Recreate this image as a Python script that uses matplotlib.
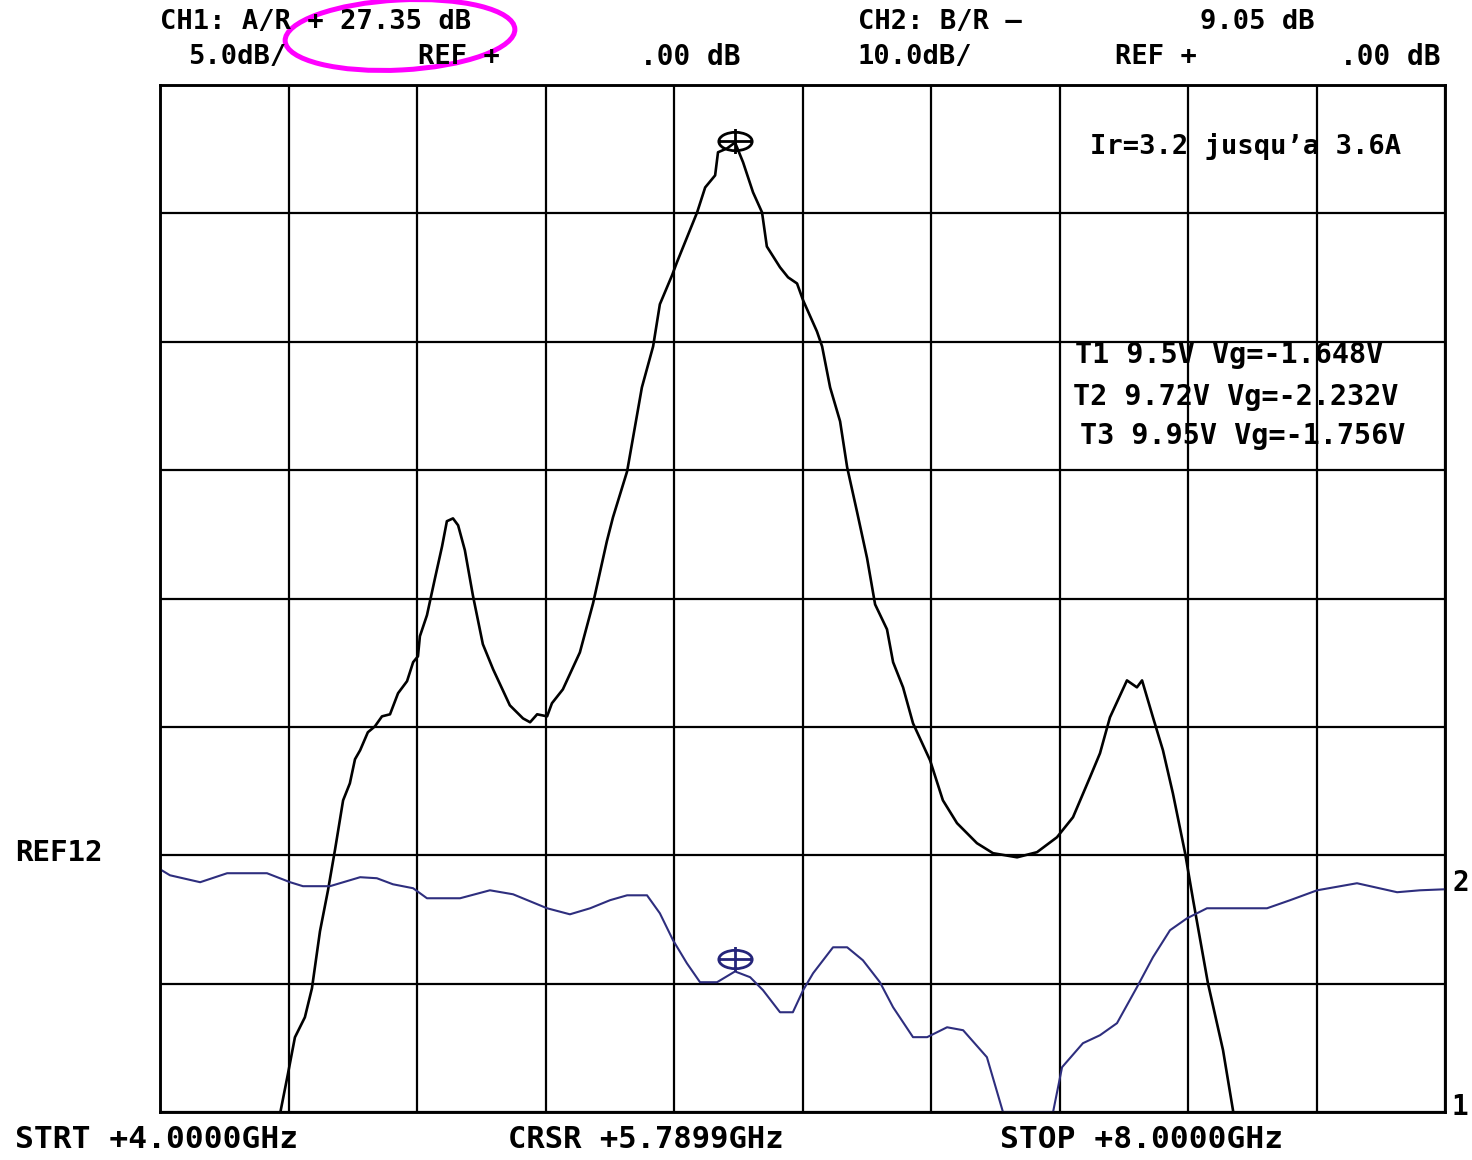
import numpy as np
import matplotlib
matplotlib.use("Agg")
import matplotlib.pyplot as plt
from matplotlib.patches import Ellipse
from matplotlib.path import Path
from matplotlib.transforms import Affine2D, ScaledTranslation

# CH1 : A/R, 5 dB/div, ref 0 dB (trace 1, black)
ch1_freq = [4.364, 4.374, 4.398, 4.420, 4.451, 4.473, 4.498, 4.523, 4.545, 4.570,
            4.591, 4.607, 4.623, 4.647, 4.669, 4.691, 4.716, 4.741, 4.769, 4.788,
            4.803, 4.809, 4.831, 4.856, 4.878, 4.893, 4.912, 4.928, 4.949, 4.974,
            5.005, 5.037, 5.089, 5.130, 5.152, 5.174, 5.205, 5.220, 5.254, 5.307,
            5.348, 5.391, 5.410, 5.454, 5.500, 5.535, 5.556, 5.594, 5.609, 5.672,
            5.697, 5.728, 5.737, 5.765, 5.790, 5.815, 5.846, 5.874, 5.889, 5.930,
            5.955, 5.983, 6.002, 6.045, 6.061, 6.086, 6.117, 6.139, 6.170, 6.201,
            6.226, 6.263, 6.282, 6.313, 6.344, 6.397, 6.437, 6.481, 6.543, 6.593,
            6.668, 6.730, 6.792, 6.842, 6.895, 6.926, 6.957, 7.010, 7.041, 7.057,
            7.091, 7.122, 7.153, 7.191, 7.216, 7.262, 7.309, 7.340, 7.349]
ch1_db = [-10.7, -10.05, -8.53, -7.09, -6.31, -5.18, -2.96, -1.36, 0.23, 2.14,
          2.80, 3.74, 4.09, 4.79, 5.02, 5.41, 5.49, 6.31, 6.78, 7.52,
          7.75, 8.53, 9.35, 10.79, 12.03, 13.01, 13.12, 12.85, 11.88, 10.12,
          8.22, 7.24, 5.84, 5.33, 5.18, 5.49, 5.41, 5.92, 6.46, 7.90,
          9.81, 12.23, 13.16, 14.95, 18.22, 19.82, 21.46, 22.59, 23.09, 25.04,
          26.01, 26.48, 27.38, 27.53, 27.76, 26.99, 25.82, 25.04, 23.71, 22.90,
          22.51, 22.27, 21.61, 20.40, 19.82, 18.22, 16.90, 15.11, 13.36, 11.57,
          9.77, 8.80, 7.52, 6.54, 5.14, 3.70, 2.14, 1.25, 0.47, 0.08,
          -0.08, 0.12, 0.70, 1.48, 3.04, 3.97, 5.37, 6.81, 6.54, 6.81,
          5.37, 4.09, 2.41, 0.08, -1.75, -4.98, -7.59, -9.93, -10.7]

# CH2 : B/R, 10 dB/div, ref 0 dB (trace 2, blue)
ch2_freq = [4.000, 4.031, 4.125, 4.209, 4.333, 4.405, 4.445, 4.529, 4.623, 4.675,
            4.725, 4.788, 4.831, 4.934, 5.027, 5.099, 5.205, 5.276, 5.339, 5.401,
            5.454, 5.516, 5.556, 5.597, 5.640, 5.681, 5.734, 5.790, 5.837, 5.877,
            5.930, 5.970, 6.002, 6.033, 6.095, 6.139, 6.188, 6.241, 6.282, 6.344,
            6.388, 6.450, 6.500, 6.574, 6.624, 6.780, 6.808, 6.873, 6.926, 6.979,
            7.041, 7.091, 7.144, 7.197, 7.259, 7.446, 7.518, 7.602, 7.726, 7.851,
            7.922, 8.000]
ch2_db = [-1.09, -1.56, -2.10, -1.40, -1.40, -2.10, -2.41, -2.41, -1.71, -1.79,
          -2.26, -2.57, -3.35, -3.35, -2.73, -3.04, -4.13, -4.60, -4.13, -3.50,
          -3.12, -3.12, -4.52, -6.62, -8.41, -9.89, -9.89, -9.05, -9.50, -10.51,
          -12.23, -12.23, -10.51, -9.19, -7.17, -7.17, -8.18, -9.89, -11.84, -14.17,
          -14.17, -13.40, -13.63, -15.73, -20.0, -20.0, -16.51, -14.64, -14.02, -13.08,
          -10.28, -7.94, -5.84, -4.91, -4.13, -4.13, -3.50, -2.73, -2.18, -2.88,
          -2.73, -2.65]

start_ghz, stop_ghz = 4.0, 8.0
cursor_ghz = 5.7899
ch1_marker = 27.35
ch2_marker = -9.05
ch1_scale, ch2_scale = 5.0, 10.0
ref_div = 2  # reference line, divisions above bottom
bias_lines = ["T1 9.5V Vg=-1.648V", "T2 9.72V Vg=-2.232V", "T3 9.95V Vg=-1.756V"]
note = "Ir=3.2 jusqu\u2019a 3.6A"

W, H = 1472, 1160
fig = plt.figure(figsize=(W / 100, H / 100), dpi=100)
fig.patch.set_facecolor("white")
ax = fig.add_axes([160 / W, 1 - 1112 / H, 1285 / W, 1027 / H])
ax2 = ax.twinx()

ax.set_xlim(start_ghz, stop_ghz)
ax.set_ylim(-ref_div * ch1_scale, (8 - ref_div) * ch1_scale)
ax2.set_ylim(-ref_div * ch2_scale, (8 - ref_div) * ch2_scale)
ax.set_xticks(np.linspace(start_ghz, stop_ghz, 11))
ax.set_yticks(np.arange(-ref_div, 9 - ref_div) * ch1_scale)
ax.grid(True, color="black", lw=1.6)
ax.tick_params(length=0, labelbottom=False, labelleft=False)
ax2.set_yticks([])
for a in (ax, ax2):
    for s in a.spines.values():
        s.set_linewidth(1.8)
        s.set_color("black")

ax.plot(ch1_freq, ch1_db, color="black", lw=1.9, zorder=3)
ax2.plot(ch2_freq, ch2_db, color="#2e2e7e", lw=1.5)

# cursor markers: flattened circle with a cross
ell = Path.unit_circle().transformed(Affine2D().scale(1.0, 0.55))
cross = Path([(-1, 0), (1, 0), (0, -0.75), (0, 0.75)],
             [Path.MOVETO, Path.LINETO, Path.MOVETO, Path.LINETO])
mk = Path.make_compound_path(ell, cross)
up = ScaledTranslation(0, 0.12, fig.dpi_scale_trans)
ax.plot([cursor_ghz], [ch1_marker], marker=mk, ms=24, mfc="none", mec="black",
        mew=2.0, transform=ax.transData + up, zorder=4)
ax2.plot([cursor_ghz], [ch2_marker], marker=mk, ms=24, mfc="none", mec="#25257a",
        mew=2.0, transform=ax2.transData + up)

fnt = dict(family="DejaVu Sans Mono", weight="bold", va="center", ha="left")


def txt(px, py, s, size):
    fig.text(px / W, 1 - py / H, s, fontsize=size, **fnt)


txt(160, 22, f"CH1: A/R + {ch1_marker:.2f} dB", 19.5)
txt(188, 57, f"{ch1_scale:.1f}dB/", 19.5)
txt(418, 57, "REF +", 19.5)
txt(640, 57, ".00 dB", 20)
txt(858, 22, "CH2: B/R \u2013", 19.5)
txt(1200, 22, f"{abs(ch2_marker):.2f} dB", 19.5)
txt(858, 57, f"{ch2_scale:.1f}dB/", 19.5)
txt(1115, 57, "REF +", 19.5)
txt(1340, 57, ".00 dB", 20)

txt(1090, 146, note, 19.5)
for i, (yy, xx) in enumerate(zip([355, 397, 436], [1075, 1073, 1080])):
    txt(xx, yy, bias_lines[i], 20.5)

txt(15, 853, "REF12", 21)
txt(1452, 883, "2", 20)
txt(1452, 1107, "1", 20)

txt(15, 1140, f"STRT +{start_ghz:.4f}GHz", 22.5)
txt(508, 1140, f"CRSR +{cursor_ghz:.4f}GHz", 22)
txt(1000, 1140, f"STOP +{stop_ghz:.4f}GHz", 22.5)

# magenta highlight around the CH1 readout
fig.patches.append(Ellipse((4.00, (H - 35) / 100), 2.30, 0.70, angle=3,
                           transform=fig.dpi_scale_trans, fill=False,
                           edgecolor="#ff00ff", lw=3.6))

fig.savefig("out.png", dpi=100, facecolor="white")
